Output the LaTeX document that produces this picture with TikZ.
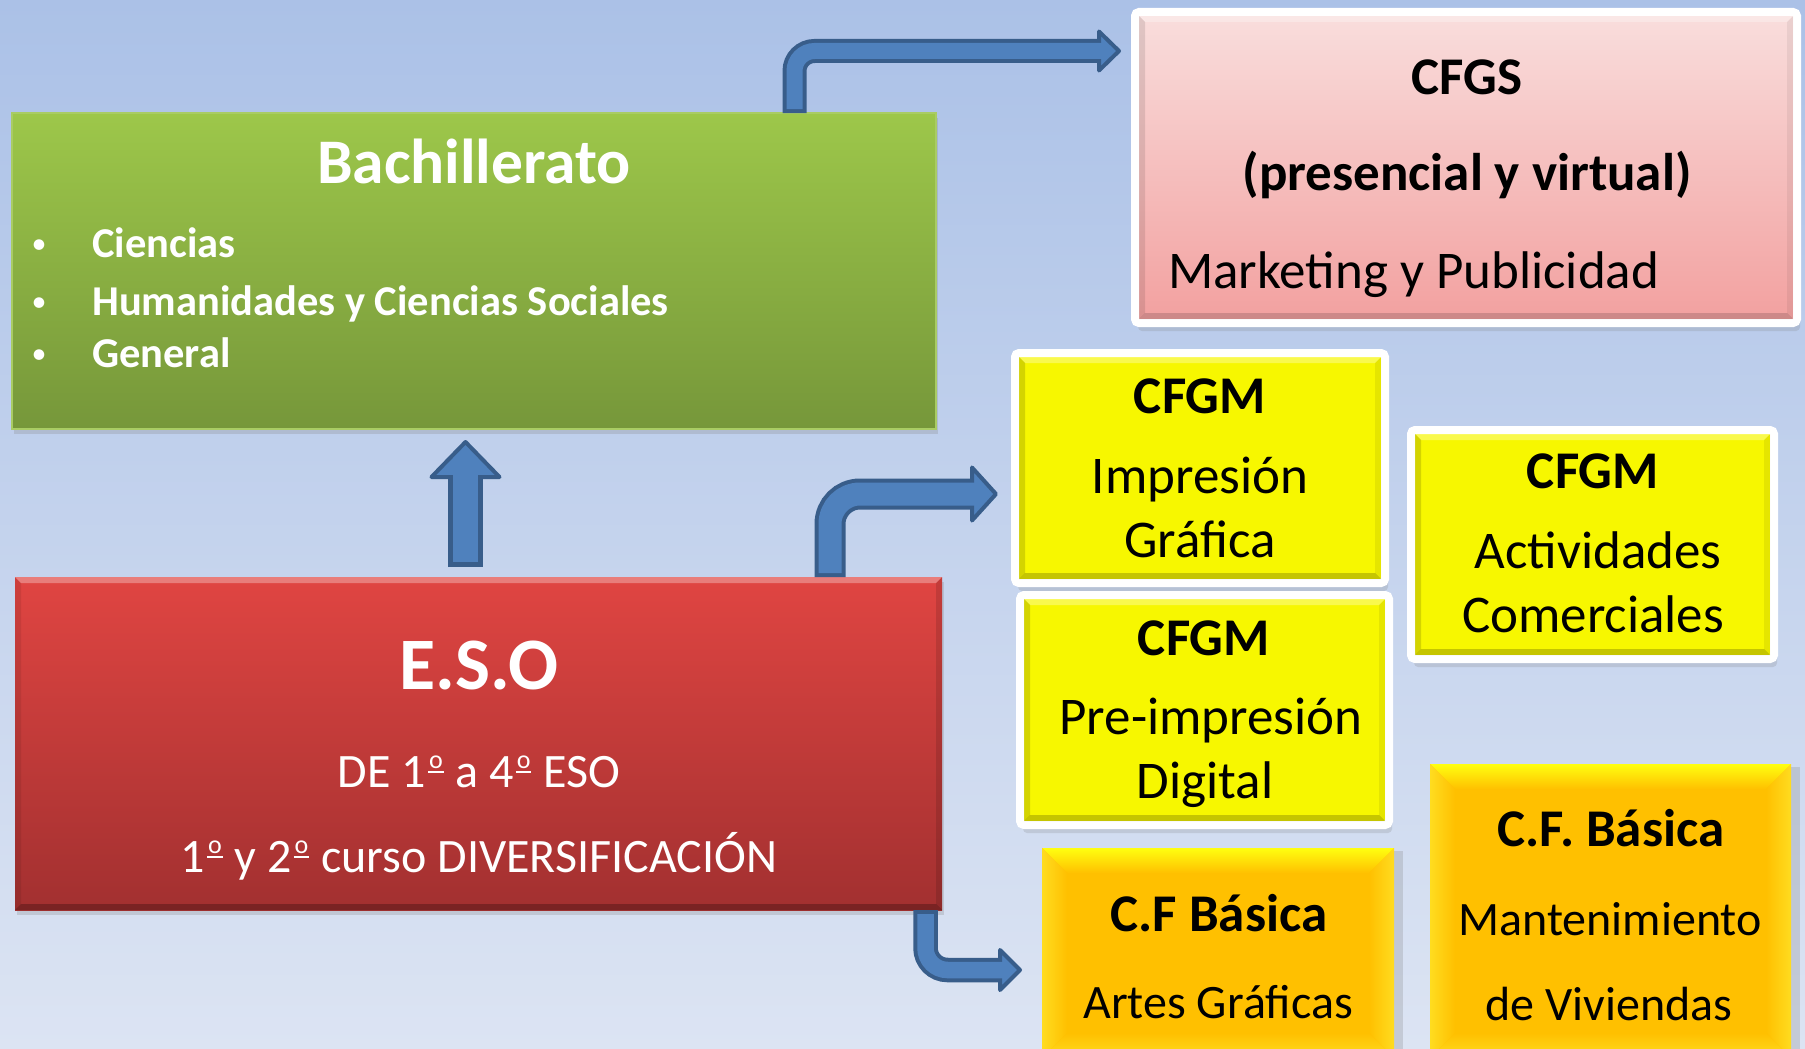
\documentclass[tikz,border=0pt]{standalone}
\usepackage{fontspec}
\setmainfont{Carlito}
\usepackage{tikz}
\usetikzlibrary{positioning,calc,shadows}

\definecolor{bgtop}{HTML}{ABC1E7}
\definecolor{bgbot}{HTML}{DCE4F3}
\definecolor{bachtop}{HTML}{9DC74A}
\definecolor{bachbot}{HTML}{76973A}
\definecolor{bachline}{HTML}{A9CC64}
\definecolor{esotop}{HTML}{E04542}
\definecolor{esobot}{HTML}{A23030}
\definecolor{pinktop}{HTML}{F9DEDD}
\definecolor{pinkbot}{HTML}{F2A09F}
\definecolor{cfgmfill}{HTML}{F7F700}
\definecolor{basicfill}{HTML}{FFC000}
\definecolor{basictop}{HTML}{FFFF10}
\definecolor{basicside}{HTML}{FFDC20}
\definecolor{arrowfill}{HTML}{4F81BD}
\definecolor{arrowedge}{HTML}{385D8A}

% underlined ordinal, as the slide font draws it
\newcommand{\ordo}{\kern2pt\raisebox{14pt}{\vbox{\hbox{\kern1pt\fontsize{26}{26}\selectfont o\kern1pt}\kern1.5pt\hrule height 2.5pt}}\kern1pt}

% bevel strips inside a box: node, inset, depth, top, left, right, bottom
\newcommand{\bevel}[7]{%
  \path[#4] ($(#1.north west)+(#2,#2)$) -- ($(#1.north east)+(-#2,#2)$)
    -- ($(#1.north east)+(-#2-#3,#2+#3)$) -- ($(#1.north west)+(#2+#3,#2+#3)$) -- cycle;
  \path[#5] ($(#1.north west)+(#2,#2)$) -- ($(#1.north west)+(#2+#3,#2+#3)$)
    -- ($(#1.south west)+(#2+#3,-#2-#3)$) -- ($(#1.south west)+(#2,-#2)$) -- cycle;
  \path[#6] ($(#1.north east)+(-#2,#2)$) -- ($(#1.north east)+(-#2-#3,#2+#3)$)
    -- ($(#1.south east)+(-#2-#3,-#2-#3)$) -- ($(#1.south east)+(-#2,-#2)$) -- cycle;
  \path[#7] ($(#1.south west)+(#2,-#2)$) -- ($(#1.south east)+(-#2,-#2)$)
    -- ($(#1.south east)+(-#2-#3,-#2-#3)$) -- ($(#1.south west)+(#2+#3,-#2-#3)$) -- cycle;
}

\begin{document}
\begin{tikzpicture}[x=1pt, y=-1pt,
    box/.style={rectangle, inner sep=0pt, outer sep=0pt},
    shadowed/.style={drop shadow={shadow xshift=2pt, shadow yshift=-5pt, opacity=0.25}},
    bachbox/.style={box, shadowed, top color=bachtop, bottom color=bachbot, draw=bachline, line width=1.5pt},
    esobox/.style={box, shadowed, top color=esotop, bottom color=esobot},
    framebox/.style={box, draw=white, line width=8pt, rounded corners=4pt,
        drop shadow={shadow xshift=3pt, shadow yshift=-8pt, opacity=0.22}},
    cfgsbox/.style={framebox, top color=pinktop, bottom color=pinkbot},
    cfgmbox/.style={framebox, fill=cfgmfill},
    basicbox/.style={box, fill=basicfill, drop shadow={shadow xshift=9pt, shadow yshift=-3pt, opacity=0.25}},
    txt/.style={anchor=base, inner sep=0pt, font=\fontsize{#1}{#1}\selectfont},
    txt/.default=53,
    txtb/.style={anchor=base, inner sep=0pt, font=\fontsize{#1}{#1}\selectfont\bfseries},
    txtb/.default=53,
    wtxt/.style={txt=#1, text=white},
    wtxtb/.style={txtb=#1, text=white},
    shaftout/.style={draw=arrowedge, line width=#1},
    shaftin/.style={draw=arrowfill, line width=#1},
    headtri/.style={fill=arrowfill, draw=arrowedge, line width=4pt, line join=round}]

  \useasboundingbox (0,0) rectangle (1805,1049);
  \shade[top color=bgtop, bottom color=bgbot] (0,0) rectangle (1805,1049);

  % boxes
  \node[bachbox, minimum width=924pt, minimum height=316pt] (bach) at (474,271) {};
  \node[esobox, minimum width=927pt, minimum height=333pt] (eso) at (478.5,743.5) {};
  \bevel{eso}{0}{6}{fill=white, opacity=0.3}{fill=black, opacity=0.08}{fill=black, opacity=0.12}{fill=black, opacity=0.25}
  \node[cfgsbox, minimum width=662pt, minimum height=311pt] (cfgs) at (1466,167.5) {};
  \bevel{cfgs}{4}{6}{fill=white, opacity=0.3}{fill=black, opacity=0.1}{fill=black, opacity=0.06}{fill=black, opacity=0.15}
  \node[cfgmbox, minimum width=370pt, minimum height=230pt] (cfgm1) at (1200,468) {};
  \node[cfgmbox, minimum width=369pt, minimum height=230pt] (cfgm2) at (1204.5,710) {};
  \node[cfgmbox, minimum width=363pt, minimum height=229pt] (cfgm3) at (1592.5,544.5) {};
  \foreach \n in {cfgm1,cfgm2,cfgm3}
    \bevel{\n}{4}{6}{fill=white, opacity=0.3}{fill=black, opacity=0.14}{fill=black, opacity=0.07}{fill=black, opacity=0.2};
  \node[basicbox, minimum width=352pt, minimum height=210pt] (artes) at (1218,953) {};
  \node[basicbox, minimum width=361pt, minimum height=294pt] (mant) at (1610.5,911) {};
  \foreach \n in {artes,mant}
    \bevel{\n}{0}{25}{top color=basictop, bottom color=basicfill}{left color=basicside, right color=basicfill}{left color=basicfill, right color=basicside}{top color=basicfill, bottom color=basicside};

  % texts
  \node[wtxtb=63.5] (bach-t) at (474,183) {Bachillerato};
  \foreach \y/\item [count=\i] in {257/Ciencias, 315/Humanidades y Ciencias Sociales, 367/General} {
    \node[wtxt=30] (bul\i) at (39,\y-4) {•};
    \node[wtxtb=42.5, anchor=base west] (bach-\i) at (92,\y) {\item};
  }
  \node[wtxtb=74] (eso-t) at (479,689) {E.S.O};
  \node[wtxt=48] (eso-a) at (479,787) {DE 1\ordo{} a 4\ordo{} ESO};
  \node[wtxt=48] (eso-b) at (479,872) {1\ordo{} y 2\ordo{} curso DIVERSIFICACIÓN};

  \node[txtb] (cfgs-t) at (1467,95) {CFGS};
  \node[txtb] (cfgs-a) at (1467,190) {(presencial y virtual)};
  \node[txt, anchor=base west] (cfgs-b) at (1168,288) {Marketing y Publicidad};

  \node[txtb] (cfgm1-t) at (1200,413) {CFGM};
  \node[txt] (cfgm1-a) at (1200,493) {Impresión};
  \node[txt] (cfgm1-b) at (1200,557) {Gráfica};
  \node[txtb] (cfgm2-t) at (1204,655) {CFGM};
  \node[txt] (cfgm2-a) at (1211,734) {Pre-impresión};
  \node[txt] (cfgm2-b) at (1205,798) {Digital};
  \node[txtb] (cfgm3-t) at (1593,488) {CFGM};
  \node[txt] (cfgm3-a) at (1598,568) {Actividades};
  \node[txt] (cfgm3-b) at (1593,632) {Comerciales};

  \node[txtb] (artes-t) at (1219,931) {C.F Básica};
  \node[txt=48] (artes-a) at (1218,1018) {Artes Gráficas};
  \node[txtb] (mant-t) at (1611,846) {C.F. Básica};
  \node[txt=48] (mant-a) at (1610,935) {Mantenimiento};
  \node[txt=48] (mant-b) at (1609,1020) {de Viviendas};

  % block arrows
  \coordinate (s1) at (bach.north -| 794.5,0);
  \coordinate (t1) at ($(cfgs.west |- 0,51)+(-16,0)$);
  \draw[shaftout=24pt, rounded corners=20pt] (s1) |- ($(t1)+(-17,0)$);
  \filldraw[headtri] (t1) -- ++(-20,-19.5) -- ++(0,39) -- cycle;
  \draw[shaftin=16pt, rounded corners=20pt, shorten <=4pt] (s1) |- ($(t1)+(-17,0)$);

  \coordinate (s2) at (eso.north -| 830,0);
  \coordinate (t2) at ($(cfgm1.west |- 0,494)+(-19,0)$);
  \draw[shaftout=31pt, rounded corners=30pt] (s2) |- ($(t2)+(-21,0)$);
  \filldraw[headtri] (t2) -- ++(-24,-26.5) -- ++(0,53) -- cycle;
  \draw[shaftin=23pt, rounded corners=30pt, shorten <=4pt] (s2) |- ($(t2)+(-21,0)$);

  \coordinate (s3) at (eso.south -| 925.5,0);
  \coordinate (t3) at ($(artes.west |- 0,970)+(-22,0)$);
  \draw[shaftout=24.5pt, rounded corners=22pt] (s3) |- ($(t3)+(-17,0)$);
  \filldraw[headtri] (t3) -- ++(-20,-20) -- ++(0,40) -- cycle;
  \draw[shaftin=16.5pt, rounded corners=22pt, shorten <=4pt] (s3) |- ($(t3)+(-17,0)$);

  \coordinate (s4) at ($(eso.north -| 465.5,0)+(0,-10)$);
  \coordinate (t4) at ($(bach.south -| 465.5,0)+(0,13)$);
  \draw[shaftout=35pt] (s4) -- ($(t4)+(0,32)$);
  \filldraw[headtri] (t4) -- ++(-34,35) -- ++(68,0) -- cycle;
  \draw[shaftin=25pt, shorten <=5pt] (s4) -- ($(t4)+(0,32)$);
\end{tikzpicture}
\end{document}
